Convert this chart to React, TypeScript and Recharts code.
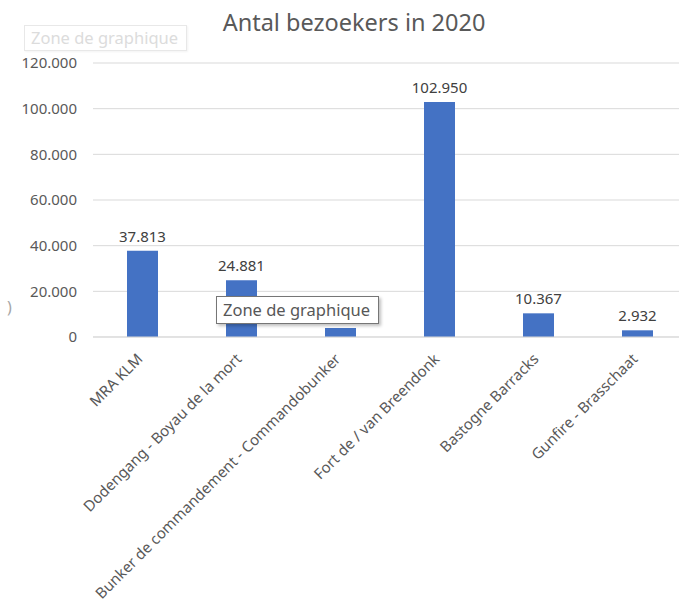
import React from "react";
import { BarChart, Bar, XAxis, YAxis, CartesianGrid, LabelList } from "recharts";

const categories = [
  "MRA KLM",
  "Dodengang - Boyau de la mort",
  "Bunker de commandement - Commandobunker",
  "Fort de / van  Breendonk",
  "Bastogne Barracks",
  "Gunfire - Brasschaat",
];
const visitors = [37813, 24881, 3950, 102950, 10367, 2932];
// data label of this category is hidden behind the "Zone de graphique" popup in the reference
const hiddenLabelCategories = ["Bunker de commandement - Commandobunker"];
const yTicks = [0, 20000, 40000, 60000, 80000, 100000, 120000];
const title = "Antal bezoekers in 2020";
const overlayText = "Zone de graphique";

const data = categories.map((name, i) => ({
  name,
  value: visitors[i],
}));

const FONT = "'Noto Sans', 'Open Sans', sans-serif";
const fmt = (v: number) => (v === 0 ? "0" : v.toLocaleString("de-DE"));

const XTick = (props: any) => {
  const { x, y, payload } = props;
  return (
    <g transform={`translate(${x + 1},${y + 15})`}>
      <text
        transform="rotate(-45)"
        textAnchor="end"
        fill="#595959"
        fontSize={15}
        fontFamily={FONT}
      >
        {payload.value}
      </text>
    </g>
  );
};

const ValueLabel = (props: any) => {
  const { x, y, width, value, index } = props;
  if (hiddenLabelCategories.includes(categories[index])) return null;
  return (
    <text
      x={x + width / 2}
      y={y - 9}
      textAnchor="middle"
      fill="#404040"
      fontSize={15}
      fontFamily={FONT}
    >
      {fmt(Number(value))}
    </text>
  );
};

export default function App() {
  return (
    <div
      style={{
        position: "absolute",
        left: 0,
        top: 0,
        width: 679,
        height: 606,
        overflow: "hidden",
        background: "#fff",
      }}
    >
      <BarChart
        width={700}
        height={606}
        data={data}
        margin={{ top: 63, right: 13, bottom: 0, left: 0 }}
      >
        <CartesianGrid vertical={false} stroke="#d9d9d9" />
        <XAxis
          dataKey="name"
          interval={0}
          height={269}
          axisLine={{ stroke: "#d9d9d9" }}
          tickLine={false}
          tick={<XTick />}
        />
        <YAxis
          width={93}
          domain={[0, 120000]}
          ticks={yTicks}
          tickFormatter={fmt}
          axisLine={false}
          tickLine={false}
          tickMargin={10}
          tick={{ fill: "#595959", fontSize: 15, fontFamily: FONT }}
        />
        <Bar dataKey="value" fill="#4472c4" barSize={31} isAnimationActive={false}>
          <LabelList dataKey="value" content={<ValueLabel />} />
        </Bar>
      </BarChart>
      <div
        style={{
          position: "absolute",
          left: 0,
          top: 11,
          width: 708,
          textAlign: "center",
          fontFamily: FONT,
          fontSize: 23.5,
          lineHeight: 1,
          color: "#595959",
          whiteSpace: "nowrap",
        }}
      >
        {title}
      </div>
      <div
        style={{
          position: "absolute",
          left: 24,
          top: 25,
          width: 163,
          height: 26,
          border: "1px solid #e8e8e8",
          background: "#fff",
          boxShadow: "1px 1px 2px rgba(0,0,0,0.05)",
          fontFamily: FONT,
          fontSize: 16.5,
          color: "#dcdcdc",
          lineHeight: "24px",
          paddingLeft: 6,
          boxSizing: "border-box",
          whiteSpace: "nowrap",
        }}
      >
        {overlayText}
      </div>
      <div
        style={{
          position: "absolute",
          left: 216,
          top: 296,
          width: 163,
          height: 28,
          border: "1px solid #767676",
          background: "#fff",
          boxShadow: "2px 2px 3px rgba(0,0,0,0.25)",
          fontFamily: FONT,
          fontSize: 16.5,
          color: "#575757",
          lineHeight: "26px",
          paddingLeft: 6,
          boxSizing: "border-box",
          whiteSpace: "nowrap",
        }}
      >
        {overlayText}
      </div>
      <div
        style={{
          position: "absolute",
          left: 7,
          top: 296,
          fontFamily: FONT,
          fontSize: 16,
          color: "#a6a6a6",
        }}
      >
        )
      </div>
    </div>
  );
}
